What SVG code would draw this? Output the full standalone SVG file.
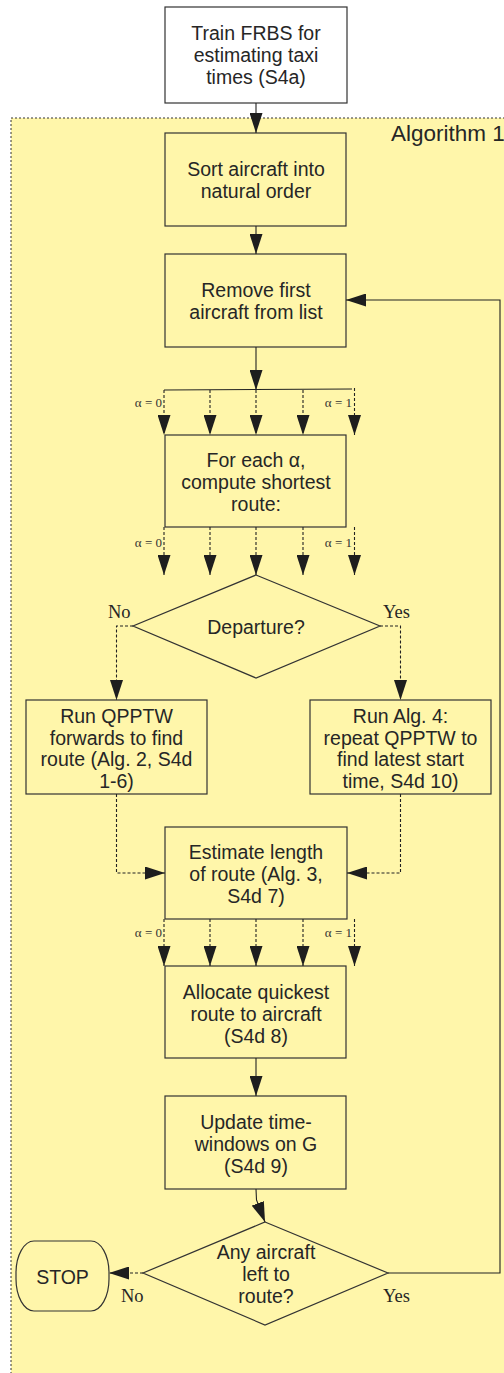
<svg xmlns="http://www.w3.org/2000/svg" width="504" height="1373" viewBox="0 0 504 1373">
<defs>
<marker id="ah" markerUnits="userSpaceOnUse" markerWidth="20" markerHeight="13" refX="20" refY="6.5" orient="auto">
<path d="M0,0 L20,6.5 L0,13 Z" fill="#1e1e1e"/>
</marker>
<style>
.box{fill:#fff6aa;stroke:#333;stroke-width:1.2}
.t{font-family:"Liberation Sans",Arial,sans-serif;font-size:19.5px;fill:#262626;text-anchor:middle}
.a{font-family:"Liberation Serif","Times New Roman",serif;font-size:13px;fill:#333;text-anchor:end}
.yn{font-family:"Liberation Serif","Times New Roman",serif;font-size:18.5px;fill:#262626}
.s{fill:none;stroke:#222;stroke-width:1.1}
.d{fill:none;stroke:#222;stroke-width:1.1;stroke-dasharray:3 2}
.m{marker-end:url(#ah)}
</style>
</defs>
<rect width="504" height="1373" fill="#ffffff"/>
<g id="algorithm1">
<rect x="11" y="118" width="520" height="1270" fill="#fff6aa" stroke="#333" stroke-width="1" stroke-dasharray="2 2"/>
<text x="391" y="141" style="font-family:'Liberation Sans',Arial,sans-serif;font-size:22.5px;fill:#262626">Algorithm 1</text>
</g>
<g id="train">
<rect x="165" y="7" width="182" height="96" fill="#ffffff" stroke="#333" stroke-width="1.2"/>
<text class="t" x="256" y="40">Train FRBS for</text>
<text class="t" x="256" y="62">estimating taxi</text>
<text class="t" x="256" y="84">times (S4a)</text>
</g>
<g id="sort">
<rect class="box" x="165" y="133" width="181" height="93"/>
<text class="t" x="256" y="176">Sort aircraft into</text>
<text class="t" x="256" y="198">natural order</text>
</g>
<g id="remove">
<rect class="box" x="165" y="254" width="181" height="93"/>
<text class="t" x="256" y="297">Remove first</text>
<text class="t" x="256" y="319">aircraft from list</text>
</g>
<g id="foreach">
<rect class="box" x="165" y="435" width="181" height="92"/>
<text class="t" x="256" y="467">For each α,</text>
<text class="t" x="256" y="489">compute shortest</text>
<text class="t" x="256" y="511">route:</text>
</g>
<g id="departure">
<polygon class="box" points="256,575 380,626 256,678 133,626"/>
<text class="t" x="256" y="634">Departure?</text>
</g>
<g id="forwards">
<rect class="box" x="26" y="700" width="181" height="94"/>
<text class="t" x="116.5" y="723">Run QPPTW</text>
<text class="t" x="116.5" y="745">forwards to find</text>
<text class="t" x="116.5" y="766">route (Alg. 2, S4d</text>
<text class="t" x="116.5" y="788">1-6)</text>
</g>
<g id="alg4">
<rect class="box" x="310" y="700" width="181" height="94"/>
<text class="t" x="400.5" y="723">Run Alg. 4:</text>
<text class="t" x="400.5" y="745">repeat QPPTW to</text>
<text class="t" x="400.5" y="766">find latest start</text>
<text class="t" x="400.5" y="788">time, S4d 10)</text>
</g>
<g id="estimate">
<rect class="box" x="165" y="827" width="182" height="92"/>
<text class="t" x="256" y="859">Estimate length</text>
<text class="t" x="256" y="881">of route (Alg. 3,</text>
<text class="t" x="256" y="903">S4d 7)</text>
</g>
<g id="allocate">
<rect class="box" x="165" y="966" width="181" height="92"/>
<text class="t" x="256" y="999">Allocate quickest</text>
<text class="t" x="256" y="1021">route to aircraft</text>
<text class="t" x="256" y="1043">(S4d 8)</text>
</g>
<g id="update">
<rect class="box" x="165" y="1096" width="181" height="93"/>
<text class="t" x="256" y="1129">Update time-</text>
<text class="t" x="256" y="1151">windows on G</text>
<text class="t" x="256" y="1173">(S4d 9)</text>
</g>
<g id="anyleft">
<polygon class="box" points="265,1222 388,1273 265,1325 143,1273"/>
<text class="t" x="266" y="1259">Any aircraft</text>
<text class="t" x="266" y="1281">left to</text>
<text class="t" x="266" y="1303">route?</text>
</g>
<g id="stop">
<rect class="box" x="16" y="1241" width="93" height="70" rx="18" ry="32"/>
<text class="t" x="62.5" y="1284">STOP</text>
</g>
<g id="connectors">
<path class="s m" d="M256,103 V133"/>
<path class="s m" d="M256,226 V254"/>
<path class="s m" d="M256,347 V390"/>
<path class="s" d="M164,390 L352,389"/>
<path class="d m" d="M164,390 V435"/>
<path class="d m" d="M210,390 V435"/>
<path class="d m" d="M256,390 V435"/>
<path class="d m" d="M303,390 V435"/>
<path class="d m" d="M354.5,388 V435"/>
<text class="a" x="162" y="407">α = 0</text>
<text class="a" x="352" y="407">α = 1</text>
<path class="d m" d="M164,527 V575"/>
<path class="d m" d="M210,527 V575"/>
<path class="d m" d="M256,527 V575"/>
<path class="d m" d="M303,527 V575"/>
<path class="d m" d="M354.5,527 V575"/>
<text class="a" x="162" y="547">α = 0</text>
<text class="a" x="352" y="547">α = 1</text>
<path class="d m" d="M133,626 H116.5 V700"/>
<path class="d m" d="M380,626 H400.5 V700"/>
<text class="yn" x="108" y="618">No</text>
<text class="yn" x="383" y="618">Yes</text>
<path class="d m" d="M116.5,794 V873 H165"/>
<path class="d m" d="M400.5,794 V873 H347"/>
<path class="d m" d="M164,919 V966"/>
<path class="d m" d="M210,919 V966"/>
<path class="d m" d="M256,919 V966"/>
<path class="d m" d="M303,919 V966"/>
<path class="d m" d="M354.5,919 V966"/>
<text class="a" x="162" y="937">α = 0</text>
<text class="a" x="352" y="937">α = 1</text>
<path class="s m" d="M256,1058 V1096"/>
<path class="s m" d="M256,1189 L256.5,1200 L265,1222"/>
<path class="d m" d="M143,1273 H109"/>
<text class="yn" x="121" y="1302">No</text>
<path class="s m" d="M388,1273 H500 V300 H346"/>
<text class="yn" x="383" y="1302">Yes</text>
</g>
</svg>
